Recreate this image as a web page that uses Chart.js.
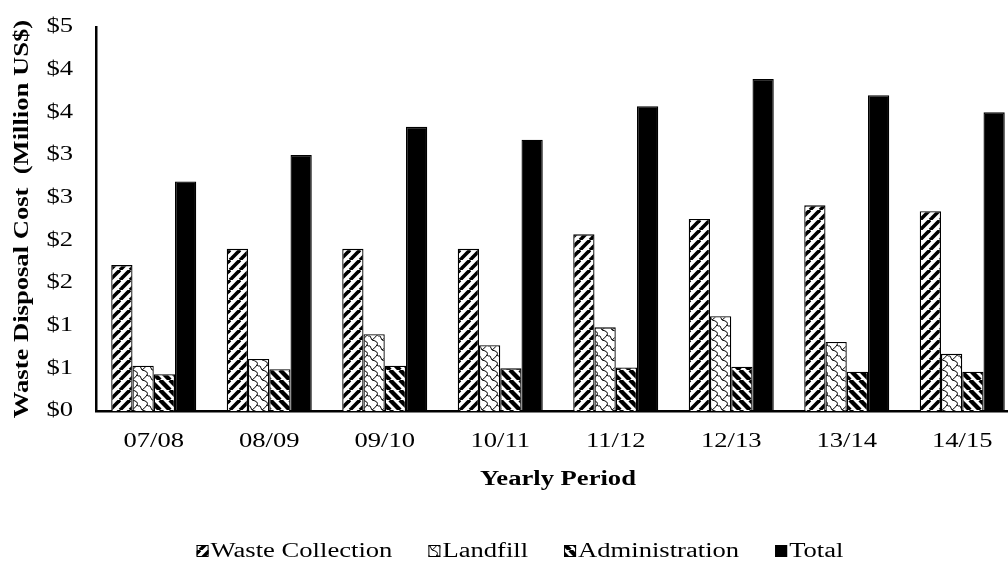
<!DOCTYPE html>
<html>
<head>
<meta charset="utf-8">
<script src="https://cdn.jsdelivr.net/npm/chart.js@4.4.1/dist/chart.umd.min.js"></script>
<style>
  html, body { margin: 0; padding: 0; background: #fff; overflow: hidden; }
  #wrap { width: 1040px; height: 562px; }
</style>
</head>
<body>
<div id="wrap"><canvas id="chart" width="1040" height="562"></canvas></div>
<script>
// Yearly waste disposal cost, million US$
const periods = ['07/08', '08/09', '09/10', '10/11', '11/12', '12/13', '13/14', '14/15'];
const wasteCollection = [1.71, 1.90, 1.90, 1.90, 2.07, 2.25, 2.41, 2.34];
const landfill = [0.53, 0.61, 0.90, 0.77, 0.98, 1.11, 0.81, 0.67];
const administration = [0.43, 0.49, 0.53, 0.50, 0.51, 0.52, 0.46, 0.46];
const total = [2.69, 3.00, 3.33, 3.18, 3.57, 3.89, 3.70, 3.50];
const yTickLabels = ['$0', '$1', '$1', '$2', '$2', '$3', '$3', '$4', '$4', '$5'];

const SERIF = '"Liberation Serif", "Times New Roman", serif';
const TEXT_WIDTH = 1.33; // wide letterforms for all chart text

// Hatch fills for the bars
function makePattern(size, draw) {
  const c = document.createElement('canvas');
  c.width = size; c.height = size;
  const g = c.getContext('2d');
  g.fillStyle = '#fff';
  g.fillRect(0, 0, size, size);
  g.strokeStyle = '#000';
  g.fillStyle = '#000';
  draw(g, size);
  return c;
}

const upDiagonal = makePattern(10, (g, s) => {
  g.lineWidth = 3.6;
  for (const o of [-s, 0, s]) {
    g.beginPath(); g.moveTo(o, s); g.lineTo(o + s, 0); g.stroke();
  }
});
const downDiagonal = makePattern(10, (g, s) => {
  g.lineWidth = 4.4;
  for (const o of [-s, 0, s]) {
    g.beginPath(); g.moveTo(o, 0); g.lineTo(o + s, s); g.stroke();
  }
});
const shingle = makePattern(10, (g, s) => {
  g.lineWidth = 1;
  g.beginPath();
  g.moveTo(2, 0);
  g.quadraticCurveTo(9, 1.5, 7, 5);
  g.quadraticCurveTo(5, 8, 2, 10);
  g.stroke();
  g.beginPath();
  g.moveTo(7, 5);
  g.quadraticCurveTo(8.5, 6.5, 10, 6);
  g.stroke();
  g.beginPath();
  g.moveTo(0, 6);
  g.quadraticCurveTo(1, 8, 2, 10);
  g.stroke();
});

const canvas = document.getElementById('chart');
const ctx = canvas.getContext('2d');

// Text is drawn and measured horizontally widened
(function widenText(c) {
  const fill = c.fillText.bind(c);
  const measure = c.measureText.bind(c);
  c.fillText = function (text, x, y, maxWidth) {
    c.save();
    c.translate(x, y);
    c.scale(TEXT_WIDTH, 1);
    if (maxWidth !== undefined) fill(text, 0, 0, maxWidth / TEXT_WIDTH);
    else fill(text, 0, 0);
    c.restore();
  };
  c.measureText = function (text) {
    const m = measure(text);
    return {
      width: m.width * TEXT_WIDTH,
      actualBoundingBoxAscent: m.actualBoundingBoxAscent,
      actualBoundingBoxDescent: m.actualBoundingBoxDescent,
      actualBoundingBoxLeft: m.actualBoundingBoxLeft * TEXT_WIDTH,
      actualBoundingBoxRight: m.actualBoundingBoxRight * TEXT_WIDTH
    };
  };
})(ctx);

const fills = {
  collection: ctx.createPattern(upDiagonal, 'repeat'),
  landfill: ctx.createPattern(shingle, 'repeat'),
  admin: ctx.createPattern(downDiagonal, 'repeat')
};

// Legend row under the axis title
const bottomLegend = {
  id: 'bottomLegend',
  afterDraw(chart) {
    const c = chart.ctx;
    const box = 12, gapText = 2, gapItem = 36;
    const y = 551;
    c.save();
    c.font = '20px ' + SERIF;
    c.textBaseline = 'middle';
    c.textAlign = 'left';
    const items = chart.data.datasets.map(ds => ({
      ds, w: box + gapText + c.measureText(ds.label).width
    }));
    const totalW = items.reduce((a, it) => a + it.w, 0) + gapItem * (items.length - 1);
    let x = chart.width / 2 - totalW / 2;
    for (const it of items) {
      c.fillStyle = it.ds.backgroundColor;
      c.fillRect(x, y - box / 2, box, box);
      c.strokeStyle = '#000';
      c.lineWidth = 1;
      c.strokeRect(x + 0.5, y - box / 2 + 0.5, box - 1, box - 1);
      c.fillStyle = '#000';
      c.fillText(it.ds.label, x + box + gapText, y + 1);
      x += it.w + gapItem;
    }
    c.restore();
  }
};

new Chart(ctx, {
  type: 'bar',
  data: {
    labels: periods,
    datasets: [
      { label: 'Waste Collection', data: wasteCollection, backgroundColor: fills.collection },
      { label: 'Landfill', data: landfill, backgroundColor: fills.landfill },
      { label: 'Administration', data: administration, backgroundColor: fills.admin },
      { label: 'Total', data: total, backgroundColor: '#000' }
    ]
  },
  options: {
    responsive: false,
    animation: false,
    layout: { padding: { top: 27, right: 20, bottom: 70, left: 0 } },
    datasets: {
      bar: {
        categoryPercentage: 0.736,
        barPercentage: 1.0,
        borderColor: '#000',
        borderWidth: 1.3
      }
    },
    plugins: {
      legend: { display: false },
      tooltip: { enabled: false }
    },
    scales: {
      x: {
        grid: { display: false, drawTicks: false },
        border: { display: true, color: '#000', width: 2.5 },
        ticks: {
          color: '#000',
          padding: 19,
          font: { family: SERIF, size: 20 },
          maxRotation: 0
        },
        title: {
          display: true,
          text: 'Yearly Period',
          color: '#000',
          font: { family: SERIF, size: 20, weight: 'bold' },
          padding: { top: 14, bottom: 0 }
        },
        afterFit(scale) {
          scale.height = 81;
          scale.paddingLeft = 0;
          scale.paddingRight = 0;
        }
      },
      y: {
        min: 0,
        max: 4.5,
        grid: { display: false, drawTicks: false },
        border: { display: true, color: '#000', width: 2.5 },
        ticks: {
          stepSize: 0.5,
          color: '#000',
          padding: 23,
          font: { family: SERIF, size: 20 },
          callback: (value, index) => yTickLabels[index]
        },
        title: {
          display: true,
          text: 'Waste Disposal Cost  (Million US$)',
          color: '#000',
          font: { family: SERIF, size: 20, weight: 'bold' },
          padding: { top: 11, bottom: 12 }
        },
        afterFit(scale) {
          scale.width = 96;
          scale.paddingTop = 0;
          scale.paddingBottom = 0;
        }
      }
    }
  },
  plugins: [bottomLegend]
});
</script>
</body>
</html>
